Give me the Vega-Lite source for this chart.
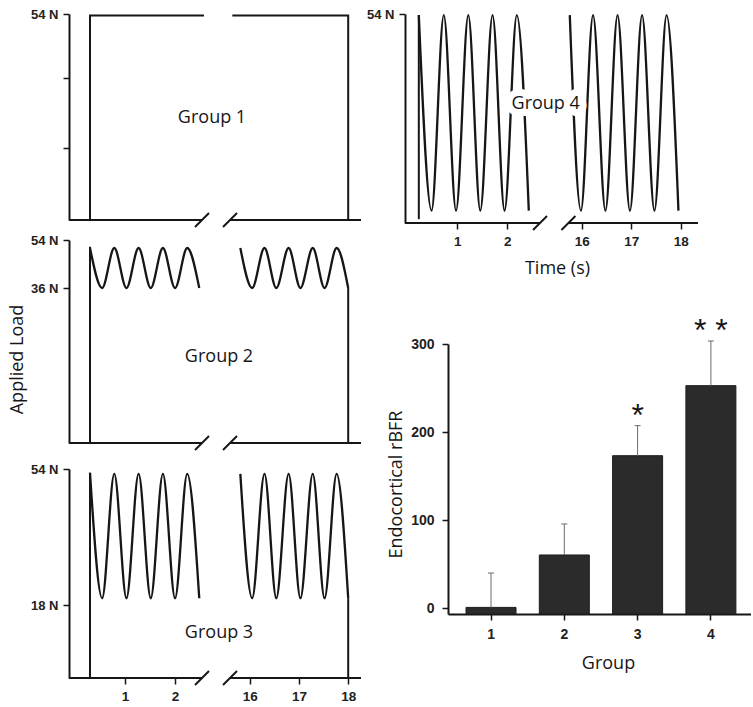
{
  "$schema": "https://vega.github.io/schema/vega-lite/v6.json",
  "background": "white",
  "padding": {"left": 8, "top": 8, "right": 0, "bottom": 0},
  "config": {
    "view": {"stroke": null},
    "font": "Open Sans",
    "axis": {
      "grid": false, "domainColor": "#161616", "domainWidth": 2, "tickColor": "#161616", "tickWidth": 1.5, "tickSize": 6,
      "labelFont": "Liberation Sans", "labelFontSize": 13, "labelFontWeight": "bold", "labelColor": "#222222", "labelPadding": 5,
      "titleFont": "Open Sans", "titleFontSize": 18, "titleFontWeight": "normal", "titleColor": "#161616",
      "labelFlush": false, "labelOverlap": false
    }
  },
  "datasets": {
    "frames": [
      {"g":1,"seg":"a","i":0,"t":0.30,"load":0},{"g":1,"seg":"a","i":1,"t":0.30,"load":53.6},{"g":1,"seg":"a","i":2,"t":2.58,"load":53.6},
      {"g":1,"seg":"b","i":0,"t":15.647,"load":53.6},{"g":1,"seg":"b","i":1,"t":18.0,"load":53.6},{"g":1,"seg":"b","i":2,"t":18.0,"load":0},
      {"g":2,"seg":"a","i":0,"t":0.30,"load":0},{"g":2,"seg":"a","i":1,"t":0.30,"load":51.5},
      {"g":2,"seg":"b","i":0,"t":18.0,"load":36},{"g":2,"seg":"b","i":1,"t":18.0,"load":0},
      {"g":3,"seg":"a","i":0,"t":0.30,"load":0},{"g":3,"seg":"a","i":1,"t":0.30,"load":53},
      {"g":3,"seg":"b","i":0,"t":18.0,"load":19.8},{"g":3,"seg":"b","i":1,"t":18.0,"load":0},
      {"g":4,"seg":"a","i":0,"t":0.23,"load":1},{"g":4,"seg":"a","i":1,"t":0.23,"load":53.7}
    ],
    "waves": [
      {"g":2,"seg":"a","t":0.30,"load":51},{"g":2,"seg":"a","t":0.543,"load":36},{"g":2,"seg":"a","t":0.786,"load":51},{"g":2,"seg":"a","t":1.029,"load":36},{"g":2,"seg":"a","t":1.272,"load":51},{"g":2,"seg":"a","t":1.515,"load":36},{"g":2,"seg":"a","t":1.758,"load":51},{"g":2,"seg":"a","t":2.001,"load":36},{"g":2,"seg":"a","t":2.244,"load":51},{"g":2,"seg":"a","t":2.485,"load":36},
      {"g":2,"seg":"b","t":15.81,"load":51},{"g":2,"seg":"b","t":16.05,"load":36},{"g":2,"seg":"b","t":16.30,"load":51},{"g":2,"seg":"b","t":16.54,"load":36},{"g":2,"seg":"b","t":16.79,"load":51},{"g":2,"seg":"b","t":17.03,"load":36},{"g":2,"seg":"b","t":17.28,"load":51},{"g":2,"seg":"b","t":17.52,"load":36},{"g":2,"seg":"b","t":17.765,"load":51},{"g":2,"seg":"b","t":18.0,"load":36},
      {"g":3,"seg":"a","t":0.30,"load":53},{"g":3,"seg":"a","t":0.543,"load":19.8},{"g":3,"seg":"a","t":0.786,"load":52.7},{"g":3,"seg":"a","t":1.029,"load":19.8},{"g":3,"seg":"a","t":1.272,"load":52.7},{"g":3,"seg":"a","t":1.515,"load":19.8},{"g":3,"seg":"a","t":1.758,"load":52.7},{"g":3,"seg":"a","t":2.001,"load":19.8},{"g":3,"seg":"a","t":2.244,"load":52.7},{"g":3,"seg":"a","t":2.485,"load":19.8},
      {"g":3,"seg":"b","t":15.81,"load":52.7},{"g":3,"seg":"b","t":16.05,"load":19.8},{"g":3,"seg":"b","t":16.30,"load":52.7},{"g":3,"seg":"b","t":16.54,"load":19.8},{"g":3,"seg":"b","t":16.79,"load":52.7},{"g":3,"seg":"b","t":17.03,"load":19.8},{"g":3,"seg":"b","t":17.28,"load":52.7},{"g":3,"seg":"b","t":17.52,"load":19.8},{"g":3,"seg":"b","t":17.765,"load":52.7},{"g":3,"seg":"b","t":18.0,"load":19.8},
      {"g":4,"seg":"a","t":0.23,"load":53.7},{"g":4,"seg":"a","t":0.485,"load":3.2},{"g":4,"seg":"a","t":0.73,"load":53.7},{"g":4,"seg":"a","t":0.975,"load":3.2},{"g":4,"seg":"a","t":1.22,"load":53.7},{"g":4,"seg":"a","t":1.46,"load":3.2},{"g":4,"seg":"a","t":1.705,"load":53.7},{"g":4,"seg":"a","t":1.945,"load":3.2},{"g":4,"seg":"a","t":2.19,"load":53.7},{"g":4,"seg":"a","t":2.43,"load":3.2},
      {"g":4,"seg":"b","t":15.76,"load":53.7},{"g":4,"seg":"b","t":15.985,"load":3.2},{"g":4,"seg":"b","t":16.23,"load":53.7},{"g":4,"seg":"b","t":16.48,"load":3.2},{"g":4,"seg":"b","t":16.725,"load":53.7},{"g":4,"seg":"b","t":16.975,"load":3.2},{"g":4,"seg":"b","t":17.22,"load":53.7},{"g":4,"seg":"b","t":17.47,"load":3.2},{"g":4,"seg":"b","t":17.715,"load":53.7},{"g":4,"seg":"b","t":17.955,"load":3.2}
    ],
    "base": [
      {"p":"G","t":-0.12,"t2":2.54,"load":0},{"p":"G","t":15.6,"t2":18.26,"load":0},
      {"p":"G4","t":-0.046,"t2":2.654,"load":0},{"p":"G4","t":15.733,"t2":18.35,"load":0}
    ],
    "breaks": [
      {"p":"G","t":2.54,"load":0},{"p":"G","t":15.6,"load":0},
      {"p":"G4","t":2.654,"load":0},{"p":"G4","t":15.733,"load":0}
    ],
    "labels": [
      {"g":1,"label":"Group 1","t":6.24,"load":24.5},
      {"g":2,"label":"Group 2","t":9.88,"load":18.7},
      {"g":3,"label":"Group 3","t":9.88,"load":9.8},
      {"g":4,"label":"Group 4","t":5.18,"load":29.5}
    ],
    "bars": [
      {"group":"1","rBFR":1,"upper":40,"star":""},
      {"group":"2","rBFR":60.5,"upper":95.7,"star":""},
      {"group":"3","rBFR":173.2,"upper":207.3,"star":"*"},
      {"group":"4","rBFR":252.7,"upper":303.4,"star":"* *"}
    ]
  },
  "concat": [
    {
      "concat": [
        {
          "width": 292, "height": 206,
          "encoding": {
            "x": {"field":"t","type":"quantitative","scale":{"domain":[-0.12,2.6,15.6,18.26],"range":[0,136,161,292],"nice":false,"zero":false},"axis":null},
            "y": {"field":"load","type":"quantitative","scale":{"domain":[0,18,36,54],"range":[206,134,64.3,0],"nice":false,"zero":false},"axis":{"values":[18,36,54],"labelExpr":"datum.value == 54 ? '54 N' : ''","title":null}}
          },
          "layer": [
            {"data":{"name":"frames"},"transform":[{"filter":"datum.g == 1"}],"mark":{"type":"line","color":"#161616","strokeWidth":2},"encoding":{"detail":{"field":"seg"},"order":{"field":"i","type":"quantitative"}}},
            {"data":{"name":"base"},"transform":[{"filter":"datum.p == 'G'"}],"mark":{"type":"rule","color":"#161616","strokeWidth":2},"encoding":{"x2":{"field":"t2"}}},
            {"data":{"name":"breaks"},"transform":[{"filter":"datum.p == 'G'"}],"mark":{"type":"point","shape":"M-1,1L1,-1","size":196,"filled":false,"color":"#161616","strokeWidth":2,"opacity":1}},
            {"data":{"name":"labels"},"transform":[{"filter":"datum.g == 1"}],"mark":{"type":"text","font":"Open Sans","fontSize":18,"align":"center","baseline":"alphabetic","color":"#161616"},"encoding":{"text":{"field":"label"}}}
          ]
        },
        {
          "width": 292, "height": 209,
          "encoding": {
            "x": {"field":"t","type":"quantitative","scale":{"domain":[-0.12,2.6,15.6,18.26],"range":[0,136,161,292],"nice":false,"zero":false},"axis":null},
            "y": {"field":"load","type":"quantitative","scale":{"domain":[0,36,54],"range":[203,48,0],"nice":false,"zero":false},"axis":{"values":[36,54],"labelExpr":"datum.value + ' N'","title":"Applied Load","titleX":-47,"titleY":119,"titleBaseline":"alphabetic","titleAngle":-90,"titleAlign":"center"}}
          },
          "layer": [
            {"data":{"name":"frames"},"transform":[{"filter":"datum.g == 2"}],"mark":{"type":"line","color":"#161616","strokeWidth":2},"encoding":{"detail":{"field":"seg"},"order":{"field":"i","type":"quantitative"}}},
            {"data":{"name":"waves"},"transform":[{"filter":"datum.g == 2"}],"mark":{"type":"line","color":"#161616","strokeWidth":2.3,"interpolate":"monotone"},"encoding":{"detail":{"field":"seg"}}},
            {"data":{"name":"base"},"transform":[{"filter":"datum.p == 'G'"}],"mark":{"type":"rule","color":"#161616","strokeWidth":2},"encoding":{"x2":{"field":"t2"}}},
            {"data":{"name":"breaks"},"transform":[{"filter":"datum.p == 'G'"}],"mark":{"type":"point","shape":"M-1,1L1,-1","size":196,"filled":false,"color":"#161616","strokeWidth":2,"opacity":1}},
            {"data":{"name":"labels"},"transform":[{"filter":"datum.g == 2"}],"mark":{"type":"text","font":"Open Sans","fontSize":18,"align":"center","baseline":"alphabetic","color":"#161616"},"encoding":{"text":{"field":"label"}}}
          ]
        },
        {
          "width": 292, "height": 209,
          "encoding": {
            "x": {"field":"t","type":"quantitative","scale":{"domain":[-0.12,2.6,15.6,18.26],"range":[0,136,161,292],"nice":false,"zero":false},"axis":{"values":[1,2,16,17,18],"domain":false,"title":null,"labelFontSize":13.5,"labelPadding":5}},
            "y": {"field":"load","type":"quantitative","scale":{"domain":[0,18,54],"range":[209,136,0],"nice":false,"zero":false},"axis":{"values":[18,54],"labelExpr":"datum.value + ' N'","title":null}}
          },
          "layer": [
            {"data":{"name":"frames"},"transform":[{"filter":"datum.g == 3"}],"mark":{"type":"line","color":"#161616","strokeWidth":2},"encoding":{"detail":{"field":"seg"},"order":{"field":"i","type":"quantitative"}}},
            {"data":{"name":"waves"},"transform":[{"filter":"datum.g == 3"}],"mark":{"type":"line","color":"#161616","strokeWidth":2.3,"interpolate":"monotone"},"encoding":{"detail":{"field":"seg"}}},
            {"data":{"name":"base"},"transform":[{"filter":"datum.p == 'G'"}],"mark":{"type":"rule","color":"#161616","strokeWidth":2},"encoding":{"x2":{"field":"t2"}}},
            {"data":{"name":"breaks"},"transform":[{"filter":"datum.p == 'G'"}],"mark":{"type":"point","shape":"M-1,1L1,-1","size":196,"filled":false,"color":"#161616","strokeWidth":2,"opacity":1}},
            {"data":{"name":"labels"},"transform":[{"filter":"datum.g == 3"}],"mark":{"type":"text","font":"Open Sans","fontSize":18,"align":"center","baseline":"alphabetic","color":"#161616"},"encoding":{"text":{"field":"label"}}}
          ]
        }
      ],
      "columns": 1,
      "align": "none",
      "spacing": 20,
      "bounds": "flush"
    },
    {
      "concat": [
        {
          "width": 250, "height": 209,
          "encoding": {
            "x": {"field":"t","type":"quantitative","scale":{"domain":[-0.046,2.66,15.73,18.35],"range":[-43,92.3,120.3,250],"nice":false,"zero":false},"axis":{"values":[1,2,16,17,18],"domain":false,"title":"Time (s)","titleX":109,"titleY":36,"titleBaseline":"top","titleAlign":"center","labelFontSize":13.5,"labelPadding":5}},
            "y": {"field":"load","type":"quantitative","scale":{"domain":[0,54],"range":[209,0],"nice":false,"zero":false},"axis":{"values":[54],"labelExpr":"datum.value + ' N'","title":null,"offset":43}}
          },
          "layer": [
            {"data":{"name":"frames"},"transform":[{"filter":"datum.g == 4"}],"mark":{"type":"line","color":"#161616","strokeWidth":2},"encoding":{"detail":{"field":"seg"},"order":{"field":"i","type":"quantitative"}}},
            {"data":{"name":"waves"},"transform":[{"filter":"datum.g == 4"}],"mark":{"type":"line","color":"#161616","strokeWidth":2.3,"interpolate":"monotone"},"encoding":{"detail":{"field":"seg"}}},
            {"data":{"name":"base"},"transform":[{"filter":"datum.p == 'G4'"}],"mark":{"type":"rule","color":"#161616","strokeWidth":2},"encoding":{"x2":{"field":"t2"}}},
            {"data":{"name":"breaks"},"transform":[{"filter":"datum.p == 'G4'"}],"mark":{"type":"point","shape":"M-1,1L1,-1","size":196,"filled":false,"color":"#161616","strokeWidth":2,"opacity":1}},
            {"data":{"name":"labels"},"transform":[{"filter":"datum.g == 4"}],"mark":{"type":"text","font":"Open Sans","fontSize":18,"align":"center","baseline":"alphabetic","color":"white","stroke":"white","strokeWidth":14,"strokeJoin":"round"},"encoding":{"text":{"field":"label"}}},
            {"data":{"name":"labels"},"transform":[{"filter":"datum.g == 4"}],"mark":{"type":"text","font":"Open Sans","fontSize":18,"align":"center","baseline":"alphabetic","color":"#161616"},"encoding":{"text":{"field":"label"}}}
          ]
        },
        {
          "width": 303, "height": 270,
          "data": {"name": "bars"},
          "encoding": {
            "x": {"field":"group","type":"nominal","scale":{"paddingInner":0.318,"paddingOuter":0.226,"align":0.544},"axis":{"labelAngle":0,"title":"Group","titleX":160,"titleY":40,"titleBaseline":"top","titleAlign":"center","tickSize":6,"labelPadding":7,"bandPosition":0.5,"labelFontSize":14}}
          },
          "layer": [
            {"mark":{"type":"bar","color":"#2b2b2b","stroke":"#1c1c1c","strokeWidth":1},"encoding":{"y":{"field":"rBFR","type":"quantitative","title":"Endocortical rBFR","scale":{"domain":[-6.5,300],"nice":false,"zero":false},"axis":{"values":[0,100,200,300],"tickSize":6,"labelPadding":8,"labelFontSize":14,"titleX":-47,"titleY":140,"titleBaseline":"alphabetic","titleAngle":-90,"titleAlign":"center"}},"y2":{"datum":-6.5}}},
            {"mark":{"type":"rule","color":"#6a6a6a","strokeWidth":1},"encoding":{"y":{"field":"rBFR","type":"quantitative","title":"Endocortical rBFR"},"y2":{"field":"upper"}}},
            {"mark":{"type":"tick","orient":"horizontal","color":"#6a6a6a","size":6,"thickness":1,"opacity":1},"encoding":{"y":{"field":"upper","type":"quantitative","title":"Endocortical rBFR"}}},
            {"mark":{"type":"text","font":"Liberation Sans","fontSize":32,"baseline":"alphabetic","dy":0,"color":"#161616"},"encoding":{"y":{"field":"upper","type":"quantitative","title":"Endocortical rBFR"},"text":{"field":"star"}}}
          ]
        }
      ],
      "columns": 1,
      "align": "none",
      "spacing": 121,
      "bounds": "flush"
    }
  ],
  "columns": 2,
  "align": "none",
  "spacing": 4
}
